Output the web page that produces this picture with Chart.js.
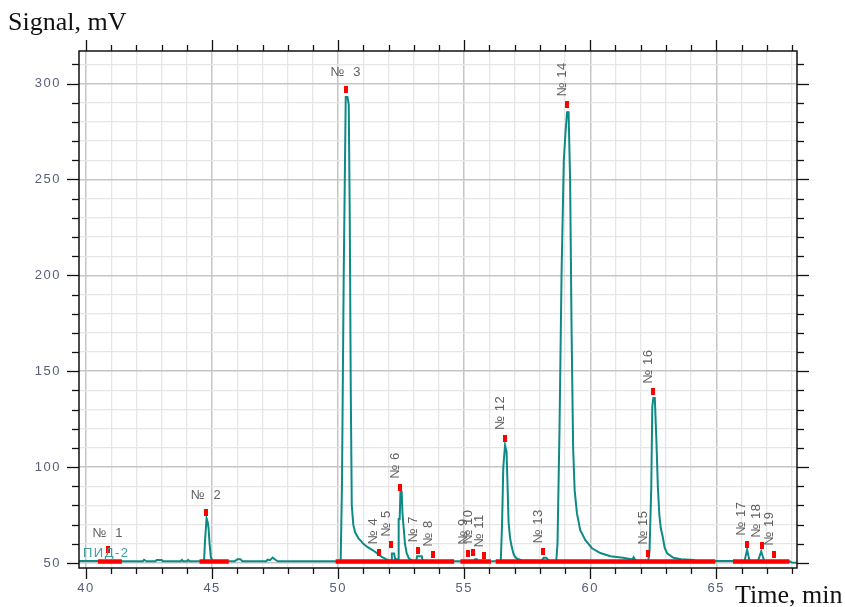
<!DOCTYPE html>
<html>
<head>
<meta charset="utf-8">
<script src="https://cdn.jsdelivr.net/npm/chart.js@4"></script>
<style>
  body { margin: 0; background: #fff; }
  #wrap { width: 845px; height: 607px; }
</style>
</head>
<body>
<div id="wrap"><canvas id="myChart" width="845" height="607"></canvas></div>
<script>
// chromatogram trace (time in min, signal in mV)
var times = [39.72, 40.8, 41.5, 42.25, 42.3, 42.4, 42.75, 42.8, 43.0, 43.05, 43.75, 43.8, 43.85, 44.0, 44.05, 44.1,
  44.68, 44.72, 44.78, 44.83, 44.86, 44.9, 44.95, 45.02, 45.9, 46.0, 46.12, 46.2, 47.15, 47.2, 47.3, 47.4, 47.5, 47.6,
  50.05, 50.1, 50.15, 50.22, 50.3, 50.37, 50.42, 50.46, 50.5, 50.54, 50.6, 50.67, 50.8, 50.9, 51.0, 51.14, 51.3, 51.45,
  51.6, 51.75, 51.9, 52.0, 52.1, 52.13, 52.22, 52.26, 52.35, 52.38, 52.4, 52.44, 52.47, 52.52, 52.55, 52.6, 52.65, 52.72,
  52.8, 52.9, 53.0, 53.1, 53.13, 53.32, 53.35, 55.4, 55.43, 55.5, 55.53,
  56.45, 56.5, 56.55, 56.62, 56.68, 56.72, 56.76, 56.82, 56.88, 56.95, 57.0, 57.1, 57.3, 58.05, 58.1, 58.15, 58.25, 58.35,
  58.65, 58.7, 58.78, 58.86, 58.95, 59.02, 59.08, 59.14, 59.2, 59.26, 59.32, 59.38, 59.47, 59.6, 59.8, 60.07, 60.4, 60.8,
  61.3, 61.68, 61.72, 61.8, 62.3, 62.35, 62.42, 62.46, 62.5, 62.56, 62.62, 62.68, 62.74, 62.8, 62.87, 62.95, 63.05, 63.3,
  63.6, 64.1, 64.15, 66.12, 66.22, 66.32, 66.65, 66.78, 66.9, 67.9, 68.0, 68.2];
var signal = [51.0, 51.0, 50.9, 50.9, 51.7, 50.9, 50.9, 51.6, 51.6, 50.9, 50.9, 51.6, 50.9, 50.9, 51.6, 50.9,
  51.0, 62, 73.4, 71, 68, 60, 53, 51.0, 50.9, 52.0, 52.0, 50.9, 50.9, 51.8, 51.5, 52.8, 51.8, 50.9,
  50.9, 51.0, 90, 200, 293, 293, 289, 230, 140, 80, 70, 66, 63, 61.5, 60, 58.5, 57.2, 56,
  54.5, 53, 52, 51.5, 51.3, 55, 55, 52, 52, 52, 73, 73, 87, 87, 76, 68, 60, 55,
  52.5, 51.5, 51.1, 51.1, 53.5, 53.5, 51.0, 50.9, 52, 52, 50.9,
  51.0, 70, 100, 111.5, 108, 90, 71, 63, 58.7, 55, 53.5, 52.2, 51.3, 51.0, 51.8, 52.8, 52.8, 51.3,
  51.0, 60, 120, 200, 260, 275, 285, 285, 250, 170, 110, 88, 76, 67.3, 62, 57.7, 55.2, 53.5,
  52.7, 51.8, 53, 51.3, 51.2, 56, 90, 131.5, 136, 136, 115, 90, 75, 68, 64, 58, 55, 52.7,
  52, 51.6, 51.0, 51.0, 57, 51.0, 51.0, 56, 51.0, 50.9, 50.3, 50.2];

// integration baseline segments (red)
var baseStart = [40.47, 44.5, 49.9, 54.85, 56.25, 65.66];
var baseEnd = [41.42, 45.66, 54.6, 56.06, 64.96, 67.9];

// peak marks
var peakNames = ["№ 1", "№ 2", "№ 3", "№ 4", "№ 5", "№ 6", "№ 7", "№ 8", "№ 9", "№ 10",
  "№ 11", "№ 12", "№ 13", "№ 14", "№ 15", "№ 16", "№ 17", "№ 18", "№ 19"];
var peakTimes = [40.86, 44.76, 50.3, 51.6, 52.1, 52.46, 53.17, 53.77, 55.16, 55.36,
  55.8, 56.63, 58.13, 59.09, 62.3, 62.5, 66.2, 66.8, 67.3];
var peakMarks = [56.8, 76.6, 297, 55.4, 59.4, 89.6, 56.4, 54.2, 55.2, 55.7,
  53.8, 115, 55.9, 289, 55.2, 139.2, 59.9, 58.9, 54.7];
var flatLabels = ["№ 1", "№ 2", "№ 3"];

var xTickLabels = [40, 45, 50, 55, 60, 65];
var yTickLabels = [50, 100, 150, 200, 250, 300];

var trace = times.map(function (t, i) { return { x: t, y: signal[i] }; });
var marks = peakTimes.map(function (t, i) { return { x: t, y: peakMarks[i] }; });
var redLine = [];
for (var i = 0; i < baseStart.length; i++) {
  redLine.push({ x: baseStart[i], y: 50.8 }, { x: baseEnd[i], y: 50.8 }, { x: baseEnd[i], y: null });
}

var markImg = document.createElement("canvas");
markImg.width = 4; markImg.height = 7;
var mctx = markImg.getContext("2d");
mctx.fillStyle = "#ff0000";
mctx.fillRect(0, 0, 4, 7);

function line(ctx, x1, y1, x2, y2) {
  ctx.beginPath(); ctx.moveTo(x1, y1); ctx.lineTo(x2, y2); ctx.stroke();
}

const frame = {
  id: "frame",
  afterDatasetsDraw(chart) {
    const ctx = chart.ctx, xs = chart.scales.x, ys = chart.scales.y;
    ctx.save();
    ctx.font = "13px 'Liberation Sans'";
    ctx.letterSpacing = "0.5px";
    ctx.fillStyle = "#606060";
    for (var i = 0; i < peakNames.length; i++) {
      var px = xs.getPixelForValue(peakTimes[i]);
      var py = ys.getPixelForValue(peakMarks[i]) - 3.5;
      if (flatLabels.indexOf(peakNames[i]) >= 0) {
        ctx.textAlign = "center"; ctx.textBaseline = "middle";
        ctx.fillText(peakNames[i].replace(" ", "  "), px, py - 13);
      } else {
        ctx.save();
        ctx.translate(px - 5, py - 5);
        ctx.rotate(-Math.PI / 2);
        ctx.textAlign = "left"; ctx.textBaseline = "middle";
        ctx.fillText(peakNames[i], 0, 0);
        ctx.restore();
      }
    }
    ctx.font = "13px 'Liberation Sans'";
    ctx.letterSpacing = "1.5px";
    ctx.fillStyle = "#3f9c9c";
    ctx.textAlign = "left"; ctx.textBaseline = "middle";
    ctx.fillText("ПИД-2", chart.chartArea.left + 4, ys.getPixelForValue(50) - 10);
    ctx.restore();
  },
  afterDraw(chart) {
    const ctx = chart.ctx, a = chart.chartArea, xs = chart.scales.x, ys = chart.scales.y;
    ctx.save();
    ctx.strokeStyle = "#111";
    ctx.lineWidth = 1.5;
    ctx.strokeRect(a.left, a.top, a.right - a.left, a.bottom - a.top);
    ctx.lineWidth = 1.3;
    xs.ticks.forEach(function (t) {
      var v = Math.round(t.value), px = Math.round(xs.getPixelForValue(v)) + 0.5;
      var len = v % 5 === 0 ? 11 : 6;
      line(ctx, px, a.bottom, px, a.bottom + len);
      line(ctx, px, a.top, px, a.top - len);
    });
    ys.ticks.forEach(function (t) {
      var v = Math.round(t.value), py = Math.round(ys.getPixelForValue(v)) + 0.5;
      var len = v % 50 === 0 ? 12 : 7;
      line(ctx, a.left, py, a.left - len, py);
      line(ctx, a.right, py, a.right + len, py);
    });
    ctx.font = "13px 'Liberation Sans'";
    ctx.letterSpacing = "1.5px";
    ctx.fillStyle = "#56607a";
    ctx.textBaseline = "middle";
    ctx.textAlign = "right";
    yTickLabels.forEach(function (v) {
      ctx.fillText(String(v), a.left - 18, ys.getPixelForValue(v));
    });
    ctx.textAlign = "center";
    xTickLabels.forEach(function (v) {
      ctx.fillText(String(v), xs.getPixelForValue(v), a.bottom + 20);
    });
    ctx.letterSpacing = "0px";
    ctx.font = "26px 'Liberation Serif'";
    ctx.fillStyle = "#111";
    ctx.textBaseline = "alphabetic";
    ctx.textAlign = "left";
    ctx.fillText("Signal, mV", 8, 30);
    ctx.fillText("Time, min", 735, 603);
    ctx.restore();
  }
};

new Chart("myChart", {
  type: "line",
  data: {
    datasets: [{
      data: trace,
      borderColor: "#0e8a86",
      borderWidth: 2,
      pointRadius: 0,
      tension: 0,
      order: 3
    }, {
      data: redLine,
      borderColor: "#ff0000",
      borderWidth: 4.5,
      pointRadius: 0,
      spanGaps: false,
      order: 2
    }, {
      data: marks,
      showLine: false,
      pointStyle: markImg,
      pointRadius: 3,
      order: 1
    }]
  },
  plugins: [frame],
  options: {
    responsive: false,
    animation: false,
    devicePixelRatio: 1,
    layout: { padding: { top: 51, right: 48, left: 0, bottom: 0 } },
    plugins: { legend: { display: false }, tooltip: { enabled: false } },
    scales: {
      x: {
        type: "linear",
        min: 39.72,
        max: 68.2,
        afterFit: function (s) { s.height = 39; },
        border: { display: false },
        ticks: { display: false, stepSize: 1, includeBounds: false },
        grid: {
          drawTicks: false,
          color: function (c) { return c.tick && Math.round(c.tick.value) % 5 === 0 ? "#c6c6c6" : "#e6e6e6"; },
          lineWidth: function (c) { return c.tick && Math.round(c.tick.value) % 5 === 0 ? 1.5 : 1.3; }
        }
      },
      y: {
        min: 47.4,
        max: 317,
        afterFit: function (s) { s.width = 79; },
        border: { display: false },
        ticks: { display: false, stepSize: 10, includeBounds: false },
        grid: {
          drawTicks: false,
          color: function (c) { return c.tick && Math.round(c.tick.value) % 50 === 0 ? "#c6c6c6" : "#e6e6e6"; },
          lineWidth: function (c) { return c.tick && Math.round(c.tick.value) % 50 === 0 ? 1.5 : 1.3; }
        }
      }
    }
  }
});
</script>
</body>
</html>
